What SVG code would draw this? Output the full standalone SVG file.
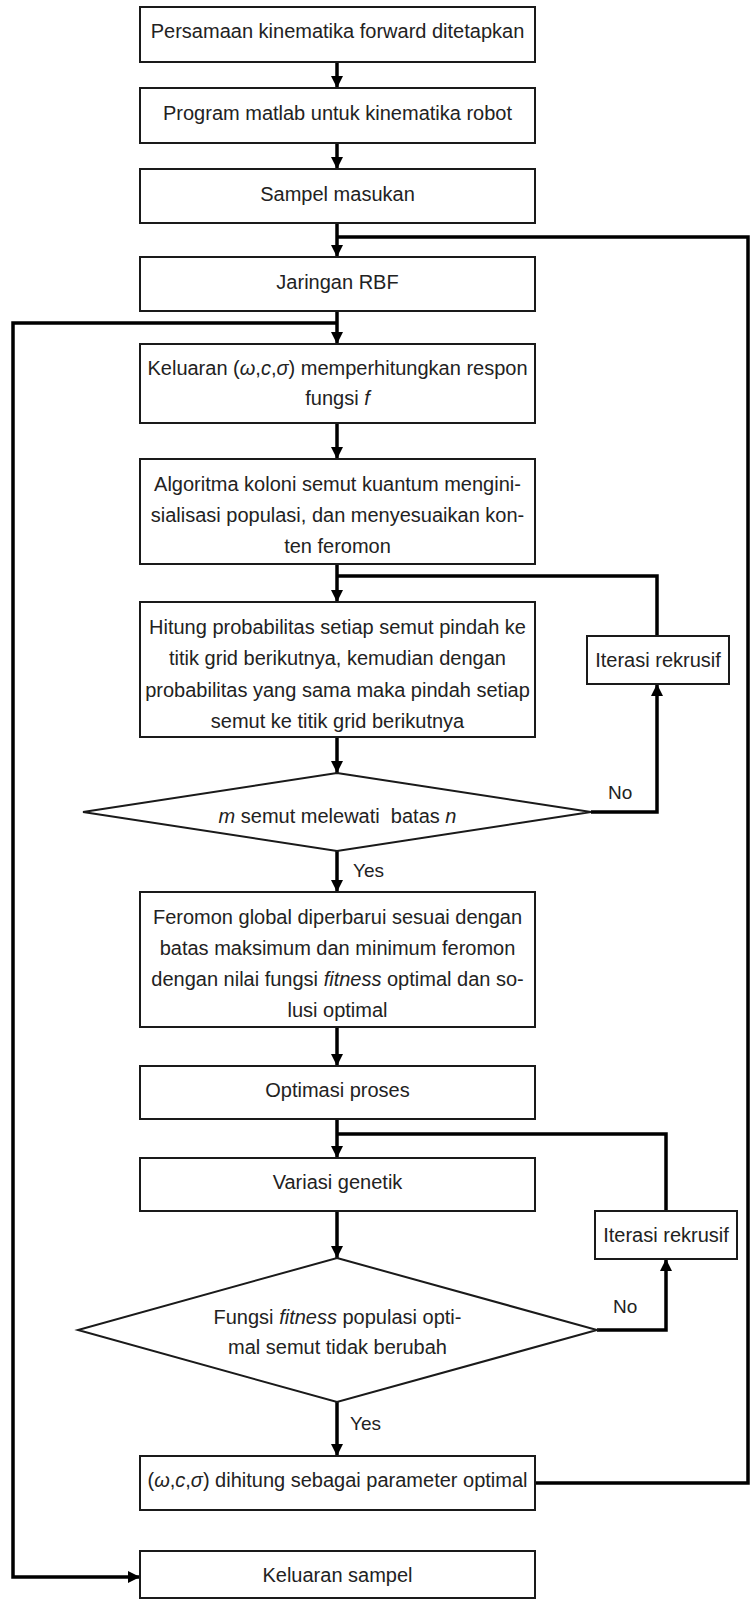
<svg xmlns="http://www.w3.org/2000/svg" width="750" height="1600" viewBox="0 0 750 1600">
<style>
.box{fill:#fff;stroke:#1a1a1a;stroke-width:2}
.dia{fill:#fff;stroke:#1a1a1a;stroke-width:2}
.t{font-family:"Liberation Sans",Arial,sans-serif;font-size:20px;fill:#222;text-anchor:middle}
.l{font-family:"Liberation Sans",Arial,sans-serif;font-size:19px;fill:#222}
.i{font-style:italic}
.c{fill:none;stroke:#000;stroke-width:3.5}
</style>
<defs>
<marker id="ah" markerUnits="userSpaceOnUse" markerWidth="12" markerHeight="12" refX="12" refY="6" orient="auto">
<path d="M0,0 L12,6 L0,12 Z" fill="#000"/>
</marker>
</defs>
<rect width="750" height="1600" fill="#fff"/>
<g id="connectors">
<path class="c" d="M337,62 V88" marker-end="url(#ah)"/>
<path class="c" d="M337,143 V169" marker-end="url(#ah)"/>
<path class="c" d="M337,223 V257" marker-end="url(#ah)"/>
<path class="c" d="M534,1483 H748 V237 H337"/>
<path class="c" d="M337,311 V344" marker-end="url(#ah)"/>
<path class="c" d="M337,323 H13 V1577 H140" marker-end="url(#ah)"/>
<path class="c" d="M337,423 V459" marker-end="url(#ah)"/>
<path class="c" d="M337,564 V602" marker-end="url(#ah)"/>
<path class="c" d="M657,636 V576 H337"/>
<path class="c" d="M591,812 H657 V684" marker-end="url(#ah)"/>
<path class="c" d="M337,737 V773" marker-end="url(#ah)"/>
<path class="c" d="M337,851 V892" marker-end="url(#ah)"/>
<path class="c" d="M337,1027 V1066" marker-end="url(#ah)"/>
<path class="c" d="M337,1119 V1158" marker-end="url(#ah)"/>
<path class="c" d="M666,1211 V1134 H337"/>
<path class="c" d="M597,1330 H666 V1259" marker-end="url(#ah)"/>
<path class="c" d="M337,1211 V1258" marker-end="url(#ah)"/>
<path class="c" d="M337,1402 V1456" marker-end="url(#ah)"/>
</g>
<g id="n1"><rect class="box" x="140" y="7" width="395" height="55"/><text class="t" x="337.5" y="38">Persamaan kinematika forward ditetapkan</text></g>
<g id="n2"><rect class="box" x="140" y="88" width="395" height="55"/><text class="t" x="337.5" y="120">Program matlab untuk kinematika robot</text></g>
<g id="n3"><rect class="box" x="140" y="169" width="395" height="54"/><text class="t" x="337.5" y="201">Sampel masukan</text></g>
<g id="n4"><rect class="box" x="140" y="257" width="395" height="54"/><text class="t" x="337.5" y="289">Jaringan RBF</text></g>
<g id="n5"><rect class="box" x="140" y="344" width="395" height="79"/>
<text class="t" x="337.5" y="375">Keluaran (<tspan class="i">ω</tspan>,<tspan class="i">c</tspan>,<tspan class="i">σ</tspan>) memperhitungkan respon</text>
<text class="t" x="337.5" y="405">fungsi <tspan class="i">f</tspan></text></g>
<g id="n6"><rect class="box" x="140" y="459" width="395" height="105"/>
<text class="t" x="337.5" y="491">Algoritma koloni semut kuantum mengini-</text>
<text class="t" x="337.5" y="522">sialisasi populasi, dan menyesuaikan kon-</text>
<text class="t" x="337.5" y="553">ten feromon</text></g>
<g id="n7"><rect class="box" x="140" y="602" width="395" height="135"/>
<text class="t" x="337.5" y="634">Hitung probabilitas setiap semut pindah ke</text>
<text class="t" x="337.5" y="665">titik grid berikutnya, kemudian dengan</text>
<text class="t" x="337.5" y="697">probabilitas yang sama maka pindah setiap</text>
<text class="t" x="337.5" y="728">semut ke titik grid berikutnya</text></g>
<g id="iter1"><rect class="box" x="587" y="636" width="142" height="48"/><text class="t" x="658" y="667">Iterasi rekrusif</text></g>
<g id="d1"><polygon class="dia" points="337,773 591,812 337,851 83,812"/>
<text class="t" x="337.5" y="823" xml:space="preserve"><tspan class="i">m</tspan> semut melewati  batas <tspan class="i">n</tspan></text></g>
<g id="lbl1"><text class="l" x="608" y="799">No</text><text class="l" x="353" y="877">Yes</text></g>
<g id="n8"><rect class="box" x="140" y="892" width="395" height="135"/>
<text class="t" x="337.5" y="924">Feromon global diperbarui sesuai dengan</text>
<text class="t" x="337.5" y="955">batas maksimum dan minimum feromon</text>
<text class="t" x="337.5" y="986">dengan nilai fungsi <tspan class="i">fitness</tspan> optimal dan so-</text>
<text class="t" x="337.5" y="1017">lusi optimal</text></g>
<g id="n9"><rect class="box" x="140" y="1066" width="395" height="53"/><text class="t" x="337.5" y="1097">Optimasi proses</text></g>
<g id="n10"><rect class="box" x="140" y="1158" width="395" height="53"/><text class="t" x="337.5" y="1189">Variasi genetik</text></g>
<g id="iter2"><rect class="box" x="595" y="1211" width="142" height="48"/><text class="t" x="666" y="1242">Iterasi rekrusif</text></g>
<g id="d2"><polygon class="dia" points="337,1258 597,1330 337,1402 78,1330"/>
<text class="t" x="337.5" y="1324">Fungsi <tspan class="i">fitness</tspan> populasi opti-</text>
<text class="t" x="337.5" y="1354">mal semut tidak berubah</text></g>
<g id="lbl2"><text class="l" x="613" y="1313">No</text><text class="l" x="350" y="1430">Yes</text></g>
<g id="n11"><rect class="box" x="140" y="1456" width="395" height="54"/>
<text class="t" x="337.5" y="1487">(<tspan class="i">ω</tspan>,<tspan class="i">c</tspan>,<tspan class="i">σ</tspan>) dihitung sebagai parameter optimal</text></g>
<g id="n12"><rect class="box" x="140" y="1551" width="395" height="47"/><text class="t" x="337.5" y="1582">Keluaran sampel</text></g>
</svg>
